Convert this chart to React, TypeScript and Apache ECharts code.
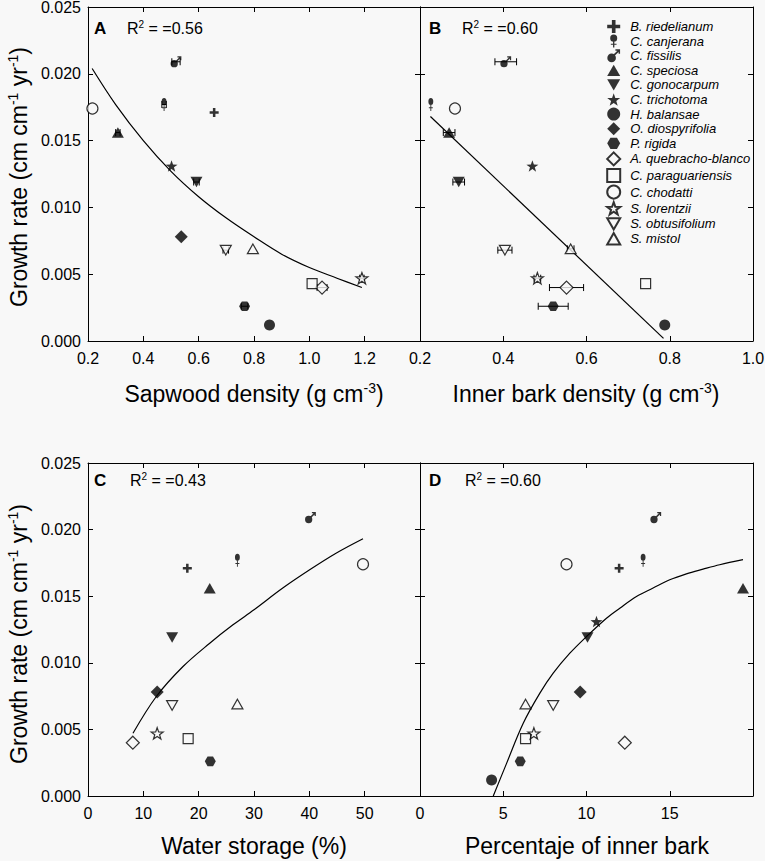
import React, { useEffect, useRef } from 'react';
import * as echarts from 'echarts';

// ---------- data ----------
const species = [
  'B. riedelianum', 'C. canjerana', 'C. fissilis', 'C. speciosa', 'C. gonocarpum',
  'C. trichotoma', 'H. balansae', 'O. diospyrifolia', 'P. rigida', 'A. quebracho-blanco',
  'C. paraguariensis', 'C. chodatti', 'S. lorentzii', 'S. obtusifolium', 'S. mistol',
];
const growthRate = [0.0171, 0.0177, 0.0209, 0.0156, 0.0119, 0.0131, 0.0012, 0.0078, 0.0026, 0.0040, 0.0043, 0.0174, 0.0047, 0.0068, 0.0069];
const sapwoodDensity = [0.656, 0.475, 0.518, 0.308, 0.592, 0.502, 0.856, 0.537, 0.766, 1.046, 1.01, 0.216, 1.19, 0.698, 0.796];
const sapwoodErr = [0, 0.008, 0.015, 0.008, 0.01, 0, 0, 0, 0.012, 0.018, 0, 0, 0.008, 0.01, 0];
const innerBarkDensity = [null, 0.226, 0.406, 0.27, 0.293, 0.47, 0.788, null, 0.52, 0.552, 0.742, 0.284, 0.482, 0.404, 0.562];
const innerBarkErr = [0, 0, 0.026, 0.014, 0.014, 0, 0, 0, 0.036, 0.041, 0, 0, 0.008, 0.017, 0.008];
const waterStorage = [17.95, 27, 40.2, 22, 15.2, null, null, 12.5, 22.1, 8.1, 18.1, 49.7, 12.5, 15.2, 27];
const innerBarkPct = [11.96, 13.4, 14.16, 19.4, 10.06, 10.6, 4.3, 9.62, 6.02, 12.3, 6.34, 8.8, 6.84, 8.0, 6.34];

const fitAx = [0.215, 0.3, 0.4, 0.5, 0.6, 0.7, 0.8, 0.9, 1.0, 1.1, 1.19];
const fitAy = [0.0204, 0.0177, 0.0150, 0.0127, 0.0108, 0.0092, 0.0078, 0.0065, 0.0055, 0.0047, 0.0040];
const fitBx = [0.225, 0.785];
const fitBy = [0.0168, 0.0002];
const fitCx = [8.13, 12.35, 17.17, 22, 26.2, 30, 35.2, 40.06, 44.9, 49.7];
const fitCy = [0.00471, 0.00747, 0.00972, 0.01147, 0.01285, 0.01398, 0.01561, 0.01698, 0.01824, 0.01931];
const fitDx = [4.4, 5.2, 6.2, 7.2, 8.0, 9.0, 10.0, 11.2, 12.0, 13.0, 14.0, 15.0, 16.0, 17.0, 18.0, 19.4];
const fitDy = [0, 0.00245, 0.00546, 0.00772, 0.00922, 0.01072, 0.01197, 0.01335, 0.0141, 0.01498, 0.01561, 0.01623, 0.01668, 0.01703, 0.01736, 0.01774];

const panelLetters = ['A', 'B', 'C', 'D'];
const r2Values = ['0.56', '0.60', '0.43', '0.60'];
const xMins = [0.2, 0.2, 0, 0];
const xMaxs = [1.4, 1.0, 60, 20];
const xIntervals = [0.2, 0.2, 10, 5];
const yMin = 0;
const yMax = 0.025;
const yInterval = 0.005;

// ---------- styling ----------
const BG = '#f8f8f8';
const FONT = 'Liberation Sans, Arial, Helvetica, sans-serif';

const STAR = 'path://M5,0L6.18,3.38L9.76,3.45L6.9,5.62L7.94,9.05L5,7L2.06,9.05L3.1,5.62L0.24,3.45L3.82,3.38Z';
const markers = [
  { symbol: 'path://M3.6,0H6.4V3.6H10V6.4H6.4V10H3.6V6.4H0V3.6H3.6Z', size: 9, open: false },
  { symbol: 'path://M0.8,3.2A3.2,3.2,0,1,1,7.2,3.2A3.2,3.2,0,1,1,0.8,3.2Z M3.4,6H4.6V8.3H6.6V9.3H4.6V11.8H3.4V9.3H1.4V8.3H3.4Z', size: [9, 13], open: false },
  { symbol: 'path://M0,7.5A3.5,3.5,0,1,1,7,7.5A3.5,3.5,0,1,1,0,7.5Z M5.2,4.6L8.2,1.6H6.6V0.4H10.4V4.2H9.2V2.6L6.2,5.6Z', size: [11, 11], open: false },
  { symbol: 'path://M5,0L10,8.7H0Z', size: 12, open: false },
  { symbol: 'path://M0,0H10L5,8.7Z', size: 12, open: false },
  { symbol: STAR, size: 12, open: false },
  { symbol: 'circle', size: 11, open: false },
  { symbol: 'diamond', size: 13, open: false },
  { symbol: 'path://M2.5,0H7.5L10,4.33L7.5,8.66H2.5L0,4.33Z', size: 11, open: false },
  { symbol: 'diamond', size: 13, open: true },
  { symbol: 'rect', size: 10, open: true },
  { symbol: 'circle', size: 11, open: true },
  { symbol: STAR, size: 12, open: true },
  { symbol: 'path://M0,0H10L5,8.7Z', size: 11, open: true },
  { symbol: 'path://M5,0L10,8.7H0Z', size: 11, open: true },
];

const grids = [
  { left: 88, top: 7, width: 332, height: 334 },
  { left: 420, top: 7, width: 333, height: 334 },
  { left: 88, top: 463, width: 332, height: 333 },
  { left: 420, top: 463, width: 333, height: 333 },
];

function fmtX(p: number, v: number) {
  if (Math.abs(v - xMaxs[p]) < 1e-9 && (p === 0 || p === 2 || p === 3)) return '';
  return p < 2 ? v.toFixed(1) : String(Math.round(v));
}

function buildOption() {
  const axisLine = { show: true, onZero: false, lineStyle: { color: '#000', width: 1 } };
  const axisTick = { show: true, inside: true, length: 5, lineStyle: { color: '#000', width: 1 } };
  const labelStyle = { color: '#000', fontSize: 16, fontFamily: FONT };

  const xAxis: any[] = [];
  const yAxis: any[] = [];
  for (let p = 0; p < 4; p++) {
    const base = {
      type: 'value', gridIndex: p, min: xMins[p], max: xMaxs[p], interval: xIntervals[p],
      splitLine: { show: false }, axisLine, axisTick,
    };
    xAxis.push({ ...base, position: 'bottom', axisLabel: { ...labelStyle, margin: 9, formatter: (v: number) => fmtX(p, v) } });
    xAxis.push({ ...base, position: 'top', axisLabel: { show: false } });
    const ybase = {
      type: 'value', gridIndex: p, min: yMin, max: yMax, interval: yInterval,
      splitLine: { show: false }, axisLine, axisTick,
    };
    yAxis.push({ ...ybase, position: 'left', axisLabel: p % 2 === 0 ? { ...labelStyle, margin: 7, formatter: (v: number) => v.toFixed(3) } : { show: false } });
    yAxis.push({ ...ybase, position: 'right', axisLabel: { show: false } });
  }

  const xData = [sapwoodDensity, innerBarkDensity, waterStorage, innerBarkPct];
  const errData = [sapwoodErr, innerBarkErr, null, null];
  const fits = [[fitAx, fitAy], [fitBx, fitBy], [fitCx, fitCy], [fitDx, fitDy]];

  const series: any[] = [];
  for (let p = 0; p < 4; p++) {
    const fx = fits[p][0];
    const fy = fits[p][1];
    series.push({
      type: 'line', name: 'fit' + p, xAxisIndex: 2 * p, yAxisIndex: 2 * p,
      data: fx.map((x, i) => [x, fy[i]]), smooth: fx.length > 2 ? 0.35 : false,
      showSymbol: false, symbol: 'none', silent: true, z: 2,
      lineStyle: { color: '#000', width: 1.2 },
    });
    const errs = errData[p];
    if (errs) {
      const ed: number[][] = [];
      species.forEach((_, i) => {
        const xv = xData[p][i];
        if (xv != null && errs[i] > 0) ed.push([xv as number, growthRate[i], errs[i]]);
      });
      series.push({
        type: 'custom', name: 'err' + p, xAxisIndex: 2 * p, yAxisIndex: 2 * p, silent: true, z: 2,
        data: ed, encode: { x: 0, y: 1 },
        renderItem: (params: any, api: any) => {
          const x = api.value(0), y = api.value(1), e = api.value(2);
          const a = api.coord([x - e, y]);
          const b = api.coord([x + e, y]);
          const h = 3.5;
          const st = { stroke: '#000', lineWidth: 1 };
          return {
            type: 'group', children: [
              { type: 'line', shape: { x1: a[0], y1: a[1], x2: b[0], y2: b[1] }, style: st },
              { type: 'line', shape: { x1: a[0], y1: a[1] - h, x2: a[0], y2: a[1] + h }, style: st },
              { type: 'line', shape: { x1: b[0], y1: b[1] - h, x2: b[0], y2: b[1] + h }, style: st },
            ],
          };
        },
      });
    }
    species.forEach((name, i) => {
      const xv = xData[p][i];
      if (xv == null) return;
      const m = markers[i];
      series.push({
        type: 'scatter', name, xAxisIndex: 2 * p, yAxisIndex: 2 * p,
        data: [[xv, growthRate[i]]], symbol: m.symbol, symbolSize: m.size, symbolKeepAspect: true,
        itemStyle: m.open ? { color: BG, borderColor: '#000', borderWidth: 1.2 } : { color: '#000', borderWidth: 0 },
        silent: true, z: 3,
      });
    });
  }

  const sup = { fontSize: 14, fontFamily: FONT, fill: '#000', verticalAlign: 'top' };
  const big = { fontSize: 23, fontFamily: FONT, fill: '#000', lineHeight: 27 };
  const rn = { fontSize: 16, fontFamily: FONT, fill: '#000', lineHeight: 18 };
  const rs = { fontSize: 10, fontFamily: FONT, fill: '#000', verticalAlign: 'top' };

  const graphic: any[] = [];
  const yTitle = '{n|Growth rate (cm cm}{s|-1}{n| yr}{s|-1}{n|)}';
  graphic.push({ type: 'text', x: 19, y: 177, rotation: Math.PI / 2, style: { text: yTitle, rich: { n: big, s: sup }, align: 'center', verticalAlign: 'middle', fontSize: 23, fontFamily: FONT, fill: '#000' } });
  graphic.push({ type: 'text', x: 19, y: 634, rotation: Math.PI / 2, style: { text: yTitle, rich: { n: big, s: sup }, align: 'center', verticalAlign: 'middle', fontSize: 23, fontFamily: FONT, fill: '#000' } });
  const xTitles = [
    '{n|Sapwood density (g cm}{s|-3}{n|)}',
    '{n|Inner bark density (g cm}{s|-3}{n|)}',
    '{n|Water storage (%)}',
    '{n|Percentaje of inner bark}',
  ];
  const xTitlePos = [[254, 394], [586, 394], [254, 846], [587, 846]];
  xTitles.forEach((t, p) => {
    graphic.push({ type: 'text', x: xTitlePos[p][0], y: xTitlePos[p][1], style: { text: t, rich: { n: big, s: sup }, align: 'center', verticalAlign: 'middle', fontSize: 23, fontFamily: FONT, fill: '#000' } });
  });
  const letterPos = [[94, 28], [429, 28], [94, 480], [429, 480]];
  const r2Pos = [[127, 28], [462, 28], [130, 480], [465, 480]];
  panelLetters.forEach((L, p) => {
    graphic.push({ type: 'text', x: letterPos[p][0], y: letterPos[p][1], style: { text: L, fontSize: 17, fontWeight: 'bold', fontFamily: FONT, fill: '#000', align: 'left', verticalAlign: 'middle' } });
    graphic.push({ type: 'text', x: r2Pos[p][0], y: r2Pos[p][1], style: { text: '{r|R}{s|2}{r| = =' + r2Values[p] + '}', rich: { r: rn, s: rs }, fontSize: 16, fontFamily: FONT, fill: '#000', align: 'left', verticalAlign: 'middle' } });
  });

  return {
    animation: false,
    backgroundColor: BG,
    textStyle: { fontFamily: FONT },
    grid: grids.map((g) => ({ ...g, containLabel: false, outerBoundsMode: 'none' })),
    xAxis, yAxis, series, graphic,
    legend: {
      data: species, orient: 'vertical', left: 601.2, top: 15,
      itemWidth: 13, itemHeight: 13, itemGap: 1.6, selectedMode: false,
      textStyle: { fontSize: 13, fontStyle: 'italic', fontFamily: FONT, color: '#000', lineHeight: 12, padding: [0, 0, 0, 5] },
    },
  };
}

export default function App() {
  const ref = useRef<HTMLDivElement>(null);
  useEffect(() => {
    document.body.style.margin = '0';
    document.body.style.background = BG;
    const chart = echarts.init(ref.current as HTMLDivElement, null, { renderer: 'svg' });
    chart.setOption(buildOption() as any);
    return () => chart.dispose();
  }, []);
  return <div ref={ref} style={{ position: 'absolute', left: 0, top: 0, width: 765, height: 861 }} />;
}
